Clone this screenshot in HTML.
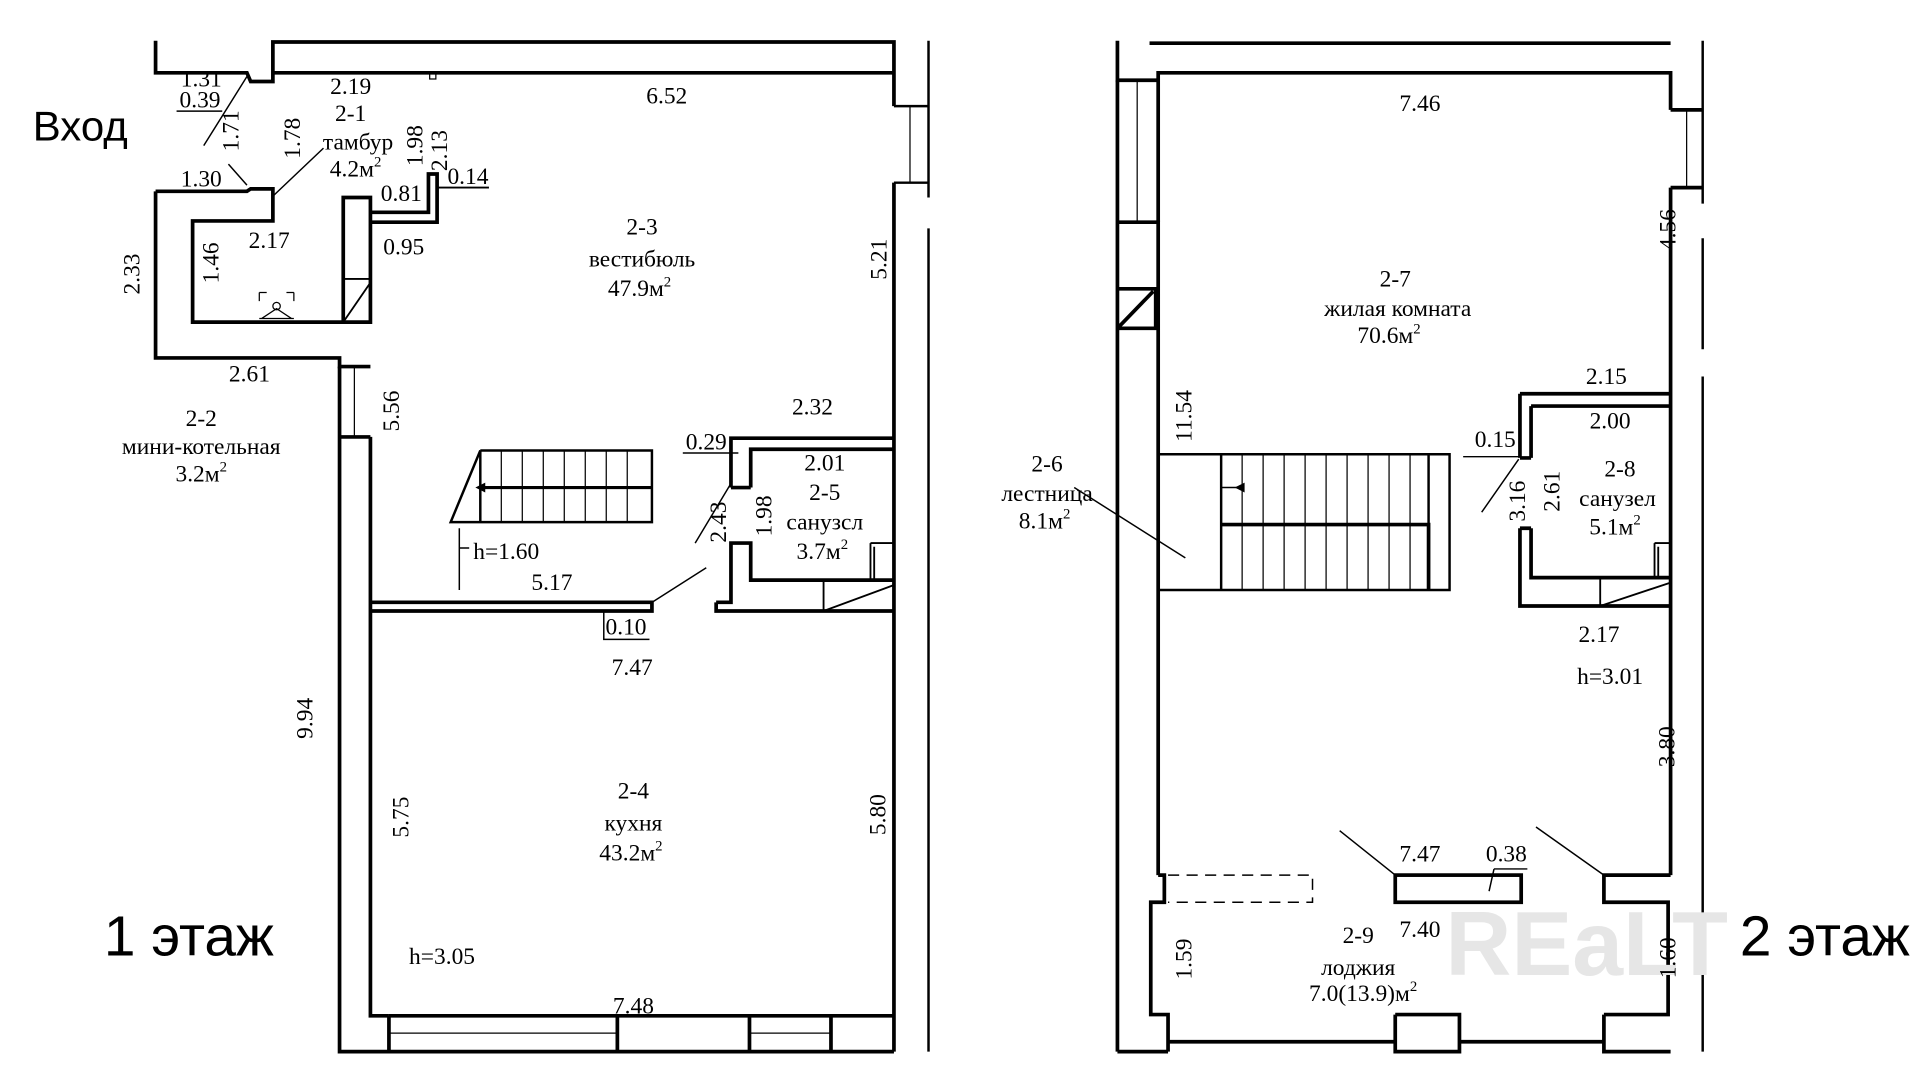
<!DOCTYPE html>
<html><head><meta charset="utf-8"><style>
html,body{margin:0;padding:0;background:#fff;}
svg{display:block;}
.d{font-family:"Liberation Serif",serif;font-size:19px;fill:#000;text-anchor:middle;}
.s{font-family:"Liberation Sans","DejaVu Sans",sans-serif;fill:#000;text-anchor:middle;}
</style></head><body>
<svg width="1920" height="1080" viewBox="0 0 1555 875" preserveAspectRatio="none" xmlns="http://www.w3.org/2000/svg">
<g stroke="#000" fill="none" stroke-width="3">
<!-- FLOOR 1 -->
<path d="M126 33 V59 H200 L203 66 H221 V34 H724 V86"/>
<path d="M221 59 H724"/>
<path d="M724 148 V852" />
<path d="M724 86 H752 M724 148 H752" stroke-width="2"/>
<path d="M737 86 V148" stroke-width="1"/>
<path d="M752 33 V160 M752 185 V852" stroke-width="2"/>
<path d="M126 155 H200 L203 153 H221 V179 H156 V261 H278 M126 155 V290 H275 V297 H300"/>
<path d="M278 160 H300 V261 H278 Z"/>
<path d="M278 226 H300 M278 261 L300 229" stroke-width="1.5"/>
<path d="M300 172 H347 V141 H354 V180 H300"/>
<path d="M354 152 H396" stroke-width="1.5"/>
<path d="M275 297 V852 H315 V823 M300 354 V823 H315" />
<path d="M275 354 H300" />
<path d="M287 297 V354" stroke-width="1"/>
<path d="M315 852 H500 M500 823 V852 H607 V823 H500 M607 852 H673 M673 823 V852 H724 M673 823 H724 M315 823 H500 M607 823 H673" stroke-width="3"/>
<path d="M315 837 H500 M607 837 H673" stroke-width="1"/>
<path d="M300 488 H528 V495 H300" />
<path d="M580 488 V495 H724 M580 488 H592 V440 H608 V470 H724 M592 395 V355 H724 M608 395 V364 H724 M592 395 H608"/>
<path d="M667 470 V495 M667 495 L724 474 M705 440 V470 M708 443 V470 M705 440 H724" stroke-width="1.5"/>
<!-- stair 1 -->
<path d="M389 365 H528 V423 H365 L389 365 V423" stroke-width="2"/>
<path d="M389 395 H528" stroke-width="2.5"/>
<path d="M406 365V423 M423 365V423 M440 365V423 M457 365V423 M474 365V423 M491 365V423 M508 365V423" stroke-width="1"/>
<path d="M372 428 V478 M372 444 H380" stroke-width="1.2"/>
<path d="M553 367 H598 M489 495 V518 H526" stroke-width="1.2"/>
<path d="M528 488 L572 460 M593 390 L563 440 M200 62 L165 118 M185 133 L200 150 M262 120 L222 158 M143 90 H180" stroke-width="1.2"/>
<path d="M210 237 V244 M210 237 H216 M238 237 V244 M238 237 H232 M212 258 L224 250 L236 258 M210 258 H238" stroke-width="1"/>
<circle cx="224" cy="248" r="3" stroke-width="1"/>
<rect x="348" y="59" width="5" height="5" stroke-width="1"/>

<!-- FLOOR 2 -->
<path d="M931 35 H1353"/>
<path d="M905 33 V65 H938 V59 H1353 V89 M938 59 V180"/>
<path d="M1353 152 V709" />
<path d="M1353 89 H1379 M1353 152 H1379" />
<path d="M1366 89 V152" stroke-width="1"/>
<path d="M1379 33 V165 M1379 193 V283 M1379 305 V852" stroke-width="2"/>
<path d="M921 65 V180" stroke-width="1"/>
<path d="M905 65 V852 M905 180 H938 V709 M905 234 H936 V266 H905 M905 266 L934 236" />
<path d="M1231 319 H1353 M1240 329 H1353 M1231 319 V371 M1240 329 V371 M1231 371 H1240 M1231 428 V491 H1353 M1240 428 V468 H1353 M1231 428 H1240"/>
<path d="M1296 468 V491 M1296 491 L1353 472 M1340 440 V468 M1343 443 V468 M1340 440 H1353" stroke-width="1.5"/>
<!-- stair 2 -->
<path d="M938 368 H1174 V478 H938 M1157 368 V425 H989 V478 M989 368 V425" stroke-width="2"/>
<path d="M989 425 H1157 V478" stroke-width="3"/>
<path d="M1006 368V478 M1023 368V478 M1040 368V478 M1057 368V478 M1074 368V478 M1091 368V478 M1108 368V478 M1125 368V478 M1142 368V478" stroke-width="1"/>
<path d="M989 395 H1004" stroke-width="1.2"/>
<path d="M870 395 L960 452 M1185 370 H1231 M1230 372 L1200 415 M1085 673 L1130 709 M1244 670 L1299 709 M1210 704 H1237 M1210 704 L1206 722" stroke-width="1.2"/>
<!-- loggia -->
<path d="M938 709 H943 V731 H932 V822 H946 V852 M905 852 H946 M946 844 H1130 M1130 822 V852 H1182 V822 H1130 M1182 844 H1299 M1299 822 V852 H1353 M1299 822 H1351 V731 H1299 V709 H1353"/>
<rect x="1130" y="709" width="102" height="22"/>
<path d="M946 709 H1063 V731 H946" stroke-width="1.2" stroke-dasharray="9 6"/>
</g>
<polygon points="385,395 393,391 393,399" fill="#000"/>
<polygon points="1000,395 1008,391 1008,399" fill="#000"/>

<!-- watermark -->
<text x="1285" y="790" class="s" style="font-size:74px;fill:#e6e6e6;font-weight:bold;">REaLT</text>

<!-- FLOOR 1 TEXT -->
<text x="65" y="114" class="s" style="font-size:34px">Вход</text>
<text x="153" y="774" class="s" style="font-size:46px">1 этаж</text>
<text x="1478" y="774" class="s" style="font-size:46px">2 этаж</text>
<g class="d">
<text x="163" y="70">1.31</text>
<text x="162" y="87">0.39</text>
<text x="284" y="76">2.19</text>
<text x="284" y="98">2-1</text>
<text x="290" y="121">тамбур</text>
<text x="288" y="143">4.2м<tspan dy="-8" font-size="12">2</tspan></text>
<text x="163" y="151">1.30</text>
<text x="325" y="163">0.81</text>
<text x="379" y="149">0.14</text>
<text x="218" y="201">2.17</text>
<text x="327" y="206">0.95</text>
<text x="202" y="309">2.61</text>
<text x="163" y="345">2-2</text>
<text x="163" y="368">мини-котельная</text>
<text x="163" y="390">3.2м<tspan dy="-8" font-size="12">2</tspan></text>
<text x="540" y="84">6.52</text>
<text x="520" y="190">2-3</text>
<text x="520" y="216">вестибюль</text>
<text x="518" y="240">47.9м<tspan dy="-8" font-size="12">2</tspan></text>
<text x="658" y="336">2.32</text>
<text x="572" y="364">0.29</text>
<text x="668" y="381">2.01</text>
<text x="668" y="405">2-5</text>
<text x="668" y="429">санузсл</text>
<text x="666" y="453">3.7м<tspan dy="-8" font-size="12">2</tspan></text>
<text x="410" y="453">h=1.60</text>
<text x="447" y="478">5.17</text>
<text x="507" y="514">0.10</text>
<text x="512" y="547">7.47</text>
<text x="513" y="647">2-4</text>
<text x="513" y="673">кухня</text>
<text x="511" y="697">43.2м<tspan dy="-8" font-size="12">2</tspan></text>
<text x="358" y="781">h=3.05</text>
<text x="513" y="821">7.48</text>
<text transform="translate(193,106) rotate(-90)">1.71</text>
<text transform="translate(243,112) rotate(-90)">1.78</text>
<text transform="translate(342,118) rotate(-90)">1.98</text>
<text transform="translate(362,122) rotate(-90)">2.13</text>
<text transform="translate(177,213) rotate(-90)">1.46</text>
<text transform="translate(113,222) rotate(-90)">2.33</text>
<text transform="translate(323,333) rotate(-90)">5.56</text>
<text transform="translate(718,210) rotate(-90)">5.21</text>
<text transform="translate(588,423) rotate(-90)">2.43</text>
<text transform="translate(625,418) rotate(-90)">1.98</text>
<text transform="translate(253,582) rotate(-90)">9.94</text>
<text transform="translate(331,662) rotate(-90)">5.75</text>
<text transform="translate(717,660) rotate(-90)">5.80</text>

<!-- FLOOR 2 TEXT -->
<text x="1150" y="90">7.46</text>
<text x="1130" y="232">2-7</text>
<text x="1132" y="256">жилая комната</text>
<text x="1125" y="278">70.6м<tspan dy="-8" font-size="12">2</tspan></text>
<text x="1301" y="311">2.15</text>
<text x="1304" y="347">2.00</text>
<text x="1211" y="362">0.15</text>
<text x="1312" y="386">2-8</text>
<text x="1310" y="410">санузел</text>
<text x="1308" y="433">5.1м<tspan dy="-8" font-size="12">2</tspan></text>
<text x="848" y="382">2-6</text>
<text x="848" y="406">лестница</text>
<text x="846" y="428">8.1м<tspan dy="-8" font-size="12">2</tspan></text>
<text x="1295" y="520">2.17</text>
<text x="1304" y="554">h=3.01</text>
<text x="1150" y="698">7.47</text>
<text x="1220" y="698">0.38</text>
<text x="1150" y="759">7.40</text>
<text x="1100" y="764">2-9</text>
<text x="1100" y="790">лоджия</text>
<text x="1104" y="811">7.0(13.9)м<tspan dy="-8" font-size="12">2</tspan></text>
<text transform="translate(1357,186) rotate(-90)">4.56</text>
<text transform="translate(965,337) rotate(-90)">11.54</text>
<text transform="translate(1235,406) rotate(-90)">3.16</text>
<text transform="translate(1263,398) rotate(-90)">2.61</text>
<text transform="translate(1356,605) rotate(-90)">3.80</text>
<text transform="translate(965,777) rotate(-90)">1.59</text>
<text transform="translate(1357,776) rotate(-90)">1.60</text>
</g>
</svg>
</body></html>
